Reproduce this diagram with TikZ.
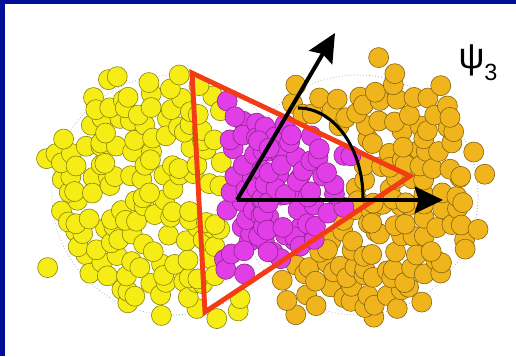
\documentclass[tikz,border=0pt]{standalone}
\usepackage{fontspec}
\setmainfont{Liberation Sans}
\usepackage{tikz}
\usetikzlibrary{arrows.meta}

\definecolor{frameblue}{RGB}{0,16,150}
\definecolor{ballyellow}{RGB}{246,236,22}
\definecolor{ballorange}{RGB}{240,180,28}
\definecolor{ballmagenta}{RGB}{226,62,232}
\definecolor{trired}{RGB}{242,60,22}
\definecolor{rimgray}{RGB}{150,160,205}

\tikzset{
    yellowball/.style={fill=ballyellow, draw=ballyellow!55!black, line width=0.5pt},
    orangeball/.style={fill=ballorange, draw=ballorange!55!black, line width=0.5pt},
    magentaball/.style={fill=ballmagenta, draw=ballmagenta!60!black, line width=0.5pt},
    rim/.style={draw=rimgray, dotted, line width=0.6pt},
    axisarrow/.style={line width=3.4pt, -{Stealth[length=0.85cm, width=0.8cm, inset=0.12cm]}},
}

% inside-triangle test, coordinates in units of 100
\newcommand{\intri}[2]{and(and(2.18*(#2-2.83)+1.03*(#1-1.92)<0, -2.05*(#2-1.80)+1.36*(#1-4.10)<0), -0.13*(#2-0.44)-2.39*(#1-2.05)<0)}

% one nucleus: centre x, centre y, seed, ball style, test, wanted result
\newcommand{\nucleus}[6]{%
    \pgfmathsetseed{#3}
    \foreach \gx in {-9,...,9}{
        \foreach \gy in {-10,...,10}{
            \pgfmathsetmacro\ja{rnd}
            \pgfmathsetmacro\jb{rnd}
            \pgfmathsetmacro\jc{rnd}
            \pgfmathsetmacro\jd{rnd}
            \pgfmathsetmacro\px{#1+15*\gx+7.5*abs(mod(\gy,2))+13*(\ja-0.5)}
            \pgfmathsetmacro\py{#2+13.5*\gy+13*(\jb-0.5)}
            \pgfmathtruncatemacro\keep{and(((\px-#1)/100)^2+((\py-#2)/100)^2<((112+36*\jc^4)/100)^2, \jd>0.12)}
            \pgfmathtruncatemacro\inside{#5}
            \ifnum\keep=1 \ifnum\inside=#6 \draw[#4] (\px,\py) circle (\R); \fi\fi
        }
    }%
}

\begin{document}
\begin{tikzpicture}[x=0.03cm, y=0.03cm]
    \useasboundingbox (0,0) rectangle (516,356);
    \fill[white] (0,0) rectangle (516,356);
    \fill[frameblue] (0,352) rectangle (516,356);
    \fill[frameblue] (0,0) rectangle (5,356);

    \coordinate (LC) at (172,161);
    \coordinate (RC) at (358,161);
    \draw[rim] (LC) circle[radius=120];
    \draw[rim] (RC) circle[radius=120];

    \def\R{0.3cm}

    % spectators
    \nucleus{170}{164}{5}{yellowball}{and(\intri{\px/100}{\py/100}, \px>222)}{0}
    \nucleus{362}{159}{23}{orangeball}{and(\intri{\px/100}{\py/100}, \px<355)}{0}

    % participants
    \nucleus{170}{164}{5}{magentaball}{and(\intri{\px/100}{\py/100}, \px>222)}{1}
    \nucleus{362}{159}{23}{magentaball}{and(\intri{\px/100}{\py/100}, \px<355)}{1}

    \coordinate (A) at (192,283);
    \coordinate (B) at (410,180);
    \coordinate (C) at (205,44);
    \draw[trired, line width=4.2pt, line join=miter] (A) -- (B) -- (C) -- cycle;

    \coordinate (O) at (237,156);
    \coordinate (X) at (443,156);
    \coordinate (Y) at (335,323);
    \coordinate (S) at (298,248);

    \draw[line width=2.6pt] (S) arc[start angle=90, end angle=0, x radius=65, y radius=90];
    \draw[axisarrow] (O) -- (X);
    \draw[axisarrow] (O) -- (Y);

    \node (psi) at (478,293) {\fontsize{31}{33}\selectfont ψ\raisebox{-0.32em}{\fontsize{20}{22}\selectfont 3}};
\end{tikzpicture}
\end{document}
